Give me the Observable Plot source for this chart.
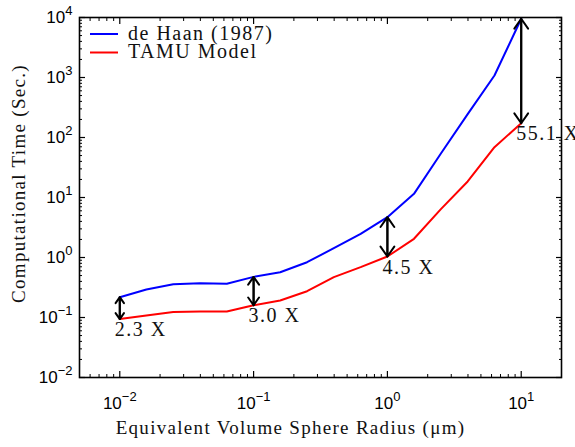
<!DOCTYPE html>
<html><head><meta charset="utf-8">
<script src="https://cdn.jsdelivr.net/npm/d3@7"></script>
<script src="https://cdn.jsdelivr.net/npm/@observablehq/plot@0.6"></script>
<style>body{margin:0;background:#fff}#chart{width:575px;height:447px}</style>
</head><body><div id="chart"></div>
<script>
// ---- data ----
const radius = [0.01, 0.0158, 0.0251, 0.0398, 0.0631, 0.1, 0.158, 0.251, 0.398, 0.631, 1, 1.58, 2.51, 3.98, 6.31, 10];
const deHaan = [0.218, 0.293, 0.359, 0.373, 0.365, 0.475, 0.569, 0.835, 1.43, 2.48, 4.7, 11.5, 54, 245, 1080, 9530];
const tamu   = [0.094, 0.108, 0.123, 0.126, 0.126, 0.16, 0.192, 0.274, 0.47, 0.69, 1.04, 2.05, 6.4, 18.5, 69, 173];
const seriesNames = ["de Haan (1987)", "TAMU Model"];
const seriesColors = ["#0000ff", "#ff0000"];
const arrowRadius = [0.01, 0.1, 1, 10];
const speedupLabels = ["2.3 X", "3.0 X", "4.5 X", "55.1 X"];
const xTicks = [0.01, 0.1, 1, 10];
const yTicks = [0.01, 0.1, 1, 10, 100, 1000, 10000];
const xDomain = [0.005, 20];
const yDomain = [0.01, 10000];
const xTitle = "Equivalent Volume Sphere Radius (\u03bcm)";
const yTitle = "Computational Time (Sec.)";

// ---- derived tables ----
const rows = radius.flatMap((r, i) => [
  {r, t: deHaan[i], s: seriesNames[0]},
  {r, t: tamu[i], s: seriesNames[1]}
]);
const arrows = arrowRadius.map((r, k) => {
  const i = radius.indexOf(r);
  return {r, lo: tamu[i], hi: deHaan[i], label: speedupLabels[k]};
});
const minor = (dom) => d3.range(-3, 5).flatMap(e => d3.range(2, 10).map(m => m * Math.pow(10, e)))
  .filter(v => v > dom[0] && v < dom[1]);
const minorX = minor(xDomain);
const minorY = minor(yDomain);

const serif = "Liberation Serif";
const sans = "Liberation Sans";
const expFmt = d => String(Math.round(Math.log10(d)));

const tickAxes = [];
for (const anchor of ["bottom", "top"]) {
  tickAxes.push(Plot.axisX(xTicks, {anchor, tickSize: -6, fill: "none", label: null, strokeWidth: 1.2}));
  tickAxes.push(Plot.axisX(minorX, {anchor, tickSize: -3, fill: "none", label: null}));
}
for (const anchor of ["left", "right"]) {
  tickAxes.push(Plot.axisY(yTicks, {anchor, tickSize: -6, fill: "none", label: null, strokeWidth: 1.2}));
  tickAxes.push(Plot.axisY(minorY, {anchor, tickSize: -3, fill: "none", label: null}));
}

const plot = Plot.plot({
  width: 575, height: 447,
  marginLeft: 79, marginRight: 14, marginTop: 17, marginBottom: 70,
  x: {type: "log", domain: xDomain},
  y: {type: "log", domain: yDomain},
  color: {domain: seriesNames, range: seriesColors},
  style: {background: "white", color: "black"},
  marks: [
    Plot.line(rows, {x: "r", y: "t", z: "s", stroke: "s", strokeWidth: 2}),
    Plot.arrow(arrows, {x1: "r", x2: "r", y1: "lo", y2: "hi", stroke: "black", strokeWidth: 2, headLength: 9, headAngle: 70}),
    Plot.arrow(arrows, {x1: "r", x2: "r", y1: "hi", y2: "lo", stroke: "black", strokeWidth: 2, headLength: 9, headAngle: 70}),
    Plot.text(arrows, {x: "r", y: "lo", text: "label", textAnchor: "start", lineAnchor: "top", dx: -5, dy: 3,
      fontFamily: serif, fontSize: 20, fill: "#111"}),
    ...tickAxes,
    Plot.axisX(xTicks, {anchor: "bottom", tickSize: 0, tickPadding: 19, tickFormat: expFmt, label: null,
      fontFamily: sans, fontSize: 17}),
    Plot.axisY(yTicks, {anchor: "left", tickSize: 0, tickPadding: 7, tickFormat: expFmt, label: null,
      fontFamily: sans, fontSize: 17}),
    Plot.text([xTitle], {frameAnchor: "bottom", textAnchor: "middle", lineAnchor: "bottom", dx: -30, dy: 56,
      fontFamily: serif, fontSize: 19, fill: "#111"}),
    Plot.text([yTitle], {frameAnchor: "left", textAnchor: "middle", lineAnchor: "bottom", rotate: -90, dx: -55, dy: -14,
      fontFamily: serif, fontSize: 19, fill: "#111"}),
    Plot.frame({stroke: "black", strokeWidth: 1.6})
  ]
});

const svg = d3.select(plot);
// wide, LaTeX-like spacing for the serif texts
svg.selectAll("text").each(function () {
  const s = this.textContent;
  if (speedupLabels.includes(s)) this.style.letterSpacing = "1.5px";
  if (s === xTitle || s === yTitle) this.style.letterSpacing = "1.3px";
});

// superscript exponents on tick labels
svg.selectAll('g[aria-label$="tick label"] text').each(function () {
  const t = d3.select(this);
  const e = t.text().replace("-", "\u2212");
  t.text(null);
  t.append("tspan").text("10");
  t.append("tspan").attr("dy", -8).attr("font-size", 13).text(e);
});

// legend (upper left, inside the frame)
const lg = svg.append("g").attr("font-family", serif).attr("font-size", 20).attr("fill", "#111")
  .attr("text-anchor", "start").style("letter-spacing", "1.5px");
seriesNames.forEach((name, i) => {
  const y = 34 + i * 18.5;
  lg.append("line").attr("x1", 90).attr("x2", 118).attr("y1", y).attr("y2", y)
    .attr("stroke", seriesColors[i]).attr("stroke-width", 2);
  lg.append("text").attr("x", 128).attr("y", y + 5.5).text(name);
});

document.getElementById("chart").append(plot);
</script>
</body></html>
